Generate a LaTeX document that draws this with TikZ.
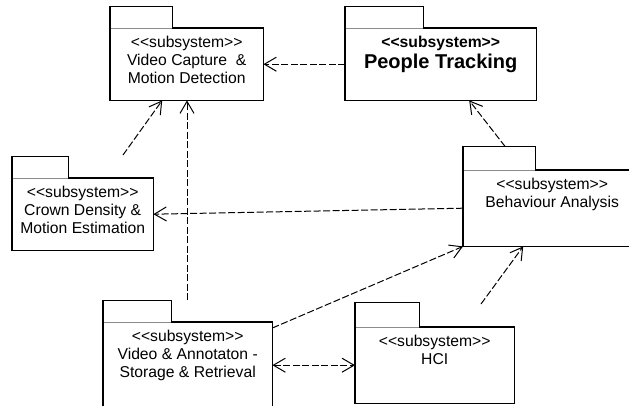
\documentclass[tikz,border=0pt]{standalone}
\usepackage{fontspec}
\newfontfamily\pkgfont{Liberation Sans}
\usetikzlibrary{arrows.meta}

% A UML package: #1 name, #2 left, #3 tab top, #4 tab right,
% #5 body top, #6 body right, #7 body bottom, #8 text
\newcommand{\umlpkg}[8]{%
  \pgfmathsetmacro\pkgW{#6-#2}\pgfmathsetmacro\pkgH{#7-#5}%
  \pgfmathsetmacro\tabW{#4-#2}\pgfmathsetmacro\tabH{#5-#3}%
  \node[pkgshape, minimum width=\pkgW pt, minimum height=\pkgH pt, anchor=north west] (#1) at (#2,#5) {};
  \node[pkgshape, minimum width=\tabW pt, minimum height=\tabH pt, anchor=south west] (#1-tab) at (#2,#5) {};
  \draw[tabline] (#1.north west) -- (#1-tab.south east);
  \draw[pkgline] (#1-tab.south east) -- (#1.north east) -- (#1.south east)
    -- (#1.south west) -- (#1.north west) |- (#1-tab.north east) -- (#1-tab.south east);
  \node[pkgtext, anchor=north] (#1-txt) at ([yshift=-8.3pt]#1.north) {#8};
}

\begin{document}
\begin{tikzpicture}[x=1pt,y=-1pt,
  pkgshape/.style={rectangle, inner sep=0pt, draw=none},
  pkgline/.style={line width=1.5pt, line join=miter, black},
  tabline/.style={line width=0.7pt, black!45},
  pkgtext/.style={inner sep=0pt, align=center, font=\pkgfont\fontsize{15.7}{18}\selectfont},
  barb/.tip={Straight Barb[length=12pt,width=14pt,line width=1pt]},
  dep/.style={line width=1pt, dash pattern=on 7pt off 2.5pt, -barb},
  dep2/.style={line width=1pt, dash pattern=on 7pt off 2.5pt, barb-barb}
]
\useasboundingbox (0,0) rectangle (629,405);

% packages
\umlpkg{vc}{110}{7}{172}{28}{263}{100}{<<subsystem>>\\Video Capture \ \&\\Motion Detection}
\umlpkg{pt}{345}{7}{423}{28}{536}{100}{\bfseries <<subsystem>>\\[3pt]\fontsize{20}{22}\selectfont\bfseries People Tracking}
\umlpkg{cr}{12}{157}{68}{178}{153}{250}{<<subsystem>>\\Crown Density \&\\Motion Estimation}
\umlpkg{ba}{463}{147}{535}{170}{641}{246}{<<subsystem>>\\Behaviour Analysis}
\umlpkg{va}{103}{301}{171}{322}{272}{420}{<<subsystem>>\\Video \& Annotaton -\\Storage \& Retrieval}
\umlpkg{hci}{355}{303}{419}{327}{514}{403}{<<subsystem>>\\HCI}

% free ends of dependencies
\coordinate (crS) at (123,155);
\coordinate (vaS) at (187,300);
\coordinate (hciS) at (481,304);

% dependencies
\draw[dep] (pt.west) -- (vc.east);
\draw[dep] (crS) -- ([xshift=-24.5pt]vc.south);
\draw[dep] (vaS) -- (vaS |- vc.south);
\draw[dep] ([xshift=6pt]ba-tab.north) -- ([xshift=28.5pt]pt.south);
\draw[dep] (ba.west) -- (cr.east);
\draw[dep] ([yshift=-6pt]va.north east) -- (ba.south west);
\draw[dep2] (hci.west -| va.east) -- (hci.west);
\draw[dep] (hciS) -- ([xshift=-29pt]ba.south);
\end{tikzpicture}
\end{document}
